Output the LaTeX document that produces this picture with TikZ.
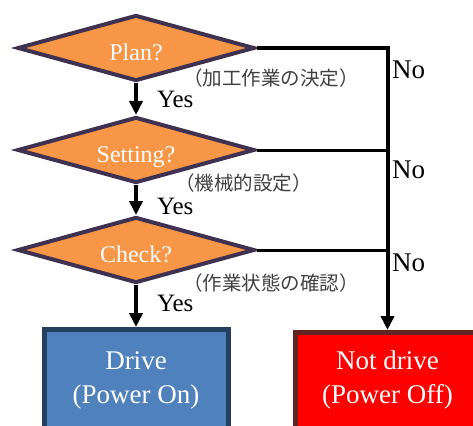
\documentclass[tikz,border=0pt]{standalone}
\usepackage{fontspec}
\setmainfont{Liberation Serif}
\newfontfamily\jpfont{Noto Sans CJK JP}
\usepackage{tikz}
\usetikzlibrary{positioning,arrows.meta,shapes.geometric}
\definecolor{qfill}{HTML}{F79646}
\definecolor{qline}{HTML}{3F3151}
\definecolor{onfill}{HTML}{4F81BD}
\definecolor{online}{HTML}{243F60}
\definecolor{offfill}{HTML}{FF0000}
\definecolor{offline}{HTML}{632523}
\definecolor{notegray}{HTML}{404040}
\tikzset{
  % --- decisions -------------------------------------------------------
  question/.style={diamond, aspect=3.6, draw=qline, fill=qfill, line width=4pt,
                   minimum width=237pt, minimum height=66pt, inner sep=0pt,
                   text height=26pt, text depth=1pt, text=white,
                   font=\fontsize{24}{26}\selectfont},
  % --- results ---------------------------------------------------------
  result/.style  ={rectangle, line width=5pt, minimum width=184pt, inner sep=0pt,
                   align=center, text=white, font=\fontsize{27}{34}\selectfont},
  drivebox/.style={result, draw=online, fill=onfill, minimum height=101pt},
  stopbox/.style ={result, draw=offline, fill=offfill, minimum height=96pt},
  % --- connectors ------------------------------------------------------
  arrow/.style   ={-{Triangle[length=14pt, width=13pt]}, line width=4pt, draw=black},
  branch/.style  ={line width=3pt, draw=black},
  % --- annotation ------------------------------------------------------
  yeslab/.style  ={font=\fontsize{25}{26}\selectfont, inner sep=0pt, text=black},
  nolab/.style   ={font=\fontsize{27}{28}\selectfont, inner sep=0pt, text=black},
  note/.style    ={font=\jpfont\fontsize{19.5}{20}\selectfont, inner sep=0pt, text=notegray},
}

\begin{document}
\begin{tikzpicture}[x=1pt, y=-1pt]
  \useasboundingbox (0,0) rectangle (473,425);
  \clip (0,0) rectangle (473,425);

  % ============================= questions =============================
  \node[question] (plan)    at (136,48)  {Plan?};
  \node[question] (setting) at (136,150) {Setting?};
  \node[question] (check)   at (136,250) {Check?};

  \node[note, anchor=west] (plannote)    at (183,78)  {（加工作業の決定）};
  \node[note, anchor=west] (settingnote) at (175,183) {（機械的設定）};
  \node[note, anchor=west] (checknote)   at (183,283) {（作業状態の確認）};

  % ============================= results =============================
  \node[drivebox] (drive)   at (136,380)     {Drive\\(Power On)};
  \node[stopbox]  (nodrive) at (387.5,380.5) {Not drive\\(Power Off)};

  % ============================= edges =============================
  % yes: straight down
  \draw[arrow] (plan.south)    -- node[yeslab, right=19pt, pos=0.5]  (yes1) {Yes} (setting.north);
  \draw[arrow] (setting.south) -- node[yeslab, right=19pt, pos=0.72] (yes2) {Yes} (check.north);
  \draw[arrow] (check.south)   -- node[yeslab, right=19pt, pos=0.45] (yes3) {Yes} (drive.north);
  % no: to the right, then down
  \draw[arrow]  (plan.east) -| (nodrive.north);
  \draw[branch] (setting.east) -- (setting.east -| nodrive.north);
  \draw[branch] (check.east)   -- (check.east -| nodrive.north);

  \node[nolab, anchor=west] (no1) at (392,70)  {No};
  \node[nolab, anchor=west] (no2) at (392,170) {No};
  \node[nolab, anchor=west] (no3) at (392,263) {No};

\end{tikzpicture}
\end{document}
